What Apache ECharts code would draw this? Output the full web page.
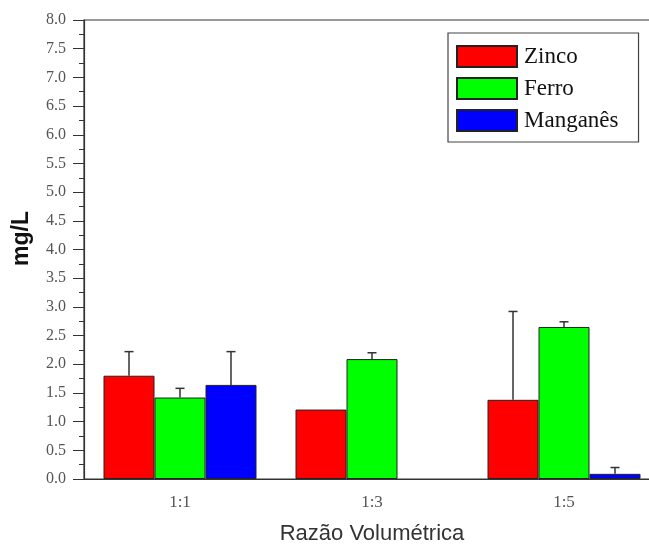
<!DOCTYPE html>
<html>
<head>
<meta charset="utf-8">
<script src="https://cdn.jsdelivr.net/npm/echarts@6/dist/echarts.min.js"></script>
<style>
  html, body { margin: 0; padding: 0; background: #fff; }
  #main { width: 649px; height: 546px; }
</style>
</head>
<body>
<div id="main"></div>
<script>
var categories = ['1:1', '1:3', '1:5'];
var seriesNames = ['Zinco', 'Ferro', 'Manganês'];
var zinco = [1.80, 1.21, 1.38];
var ferro = [1.42, 2.09, 2.65];
var manganes = [1.64, null, 0.09];
var zincoErr = [0.42, 0, 1.54];
var ferroErr = [0.16, 0.11, 0.09];
var manganesErr = [0.58, 0, 0.11];
var colors = ['#ff0000', '#00ff00', '#0000ff'];

var myChart = echarts.init(document.getElementById('main'));
var option;

var BAR_W = 51;

// error bar: line up from top of bar with a cap
function errorSeries(idx, values, errs) {
    var data = values.map(function (v, i) {
        return [i, v == null ? 0 : v, errs[i]];
    });
    return {
        type: 'custom',
        name: seriesNames[idx] + '_err',
        xAxisIndex: 0,
        yAxisIndex: 0,
        z: 5,
        silent: true,
        renderItem: function (params, api) {
            var err = api.value(2);
            if (!err) return;
            var v = api.value(1);
            var base = api.coord([api.value(0), v]);
            var top = api.coord([api.value(0), v + err]);
            var x = base[0] + (idx - 1) * BAR_W;
            var style = { stroke: '#333', lineWidth: 1.5 };
            return {
                type: 'group',
                children: [
                    { type: 'line', shape: { x1: x, y1: base[1], x2: x, y2: top[1] }, style: style },
                    { type: 'line', shape: { x1: x - 4.5, y1: top[1], x2: x + 4.5, y2: top[1] }, style: style }
                ]
            };
        },
        data: data
    };
}

function barSeries(idx, values) {
    return {
        name: seriesNames[idx],
        type: 'bar',
        xAxisIndex: 0,
        barWidth: BAR_W,
        barGap: '0%',
        itemStyle: { color: colors[idx], borderColor: '#222', borderWidth: 1 },
        data: values
    };
}

option = {
    animation: false,
    backgroundColor: '#fff',
    grid: {
        left: 84,
        top: 20,
        width: 576,
        height: 459,
        outerBoundsMode: 'none',
        containLabel: false,
        show: true,
        borderColor: '#333',
        borderWidth: 1.2,
        backgroundColor: 'transparent'
    },
    legend: {
        orient: 'vertical',
        left: 448,
        top: 33,
        itemWidth: 60,
        itemHeight: 21,
        itemGap: 9,
        padding: [12, 20, 10, 8],
        borderColor: '#444',
        borderWidth: 1.2,
        icon: 'rect',
        data: seriesNames,
        textStyle: { fontFamily: 'Liberation Serif', fontSize: 23, color: '#111', padding: [0, 0, 0, 2] }
    },
    xAxis: [
        {
            type: 'category',
            data: categories,
            name: 'Razão Volumétrica',
            nameLocation: 'middle',
            nameGap: 44,
            nameTextStyle: { fontFamily: 'Liberation Sans', fontSize: 22, color: '#333' },
            axisLine: { lineStyle: { color: '#333', width: 1.2 } },
            axisTick: { alignWithLabel: true, length: 8, lineStyle: { color: '#333' } },
            axisLabel: { fontFamily: 'Liberation Serif', fontSize: 17, color: '#555', margin: 15 }
        },
        {
            type: 'category',
            data: categories,
            position: 'bottom',
            axisLine: { show: false },
            axisTick: { length: 4, lineStyle: { color: '#333' } },
            axisLabel: { show: false }
        }
    ],
    yAxis: {
        type: 'value',
        min: 0,
        max: 8,
        interval: 0.5,
        name: 'mg/L',
        nameLocation: 'middle',
        nameGap: 51,
        nameTextStyle: { fontFamily: 'Liberation Sans', fontSize: 23, fontWeight: 'bold', color: '#111', padding: [0, 0, 0, 22] },
        axisLine: { show: true, lineStyle: { color: '#333', width: 1.2 } },
        axisTick: { show: true, length: 11, lineStyle: { color: '#333' } },
        minorTick: { show: true, splitNumber: 2, length: 5, lineStyle: { color: '#333' } },
        splitLine: { show: false },
        axisLabel: {
            fontFamily: 'Liberation Serif',
            fontSize: 16,
            color: '#555',
            margin: 18,
            formatter: function (v) { return v.toFixed(1); }
        }
    },
    series: [
        barSeries(0, zinco),
        barSeries(1, ferro),
        barSeries(2, manganes),
        errorSeries(0, zinco, zincoErr),
        errorSeries(1, ferro, ferroErr),
        errorSeries(2, manganes, manganesErr)
    ]
};
option && myChart.setOption(option);
</script>
</body>
</html>
